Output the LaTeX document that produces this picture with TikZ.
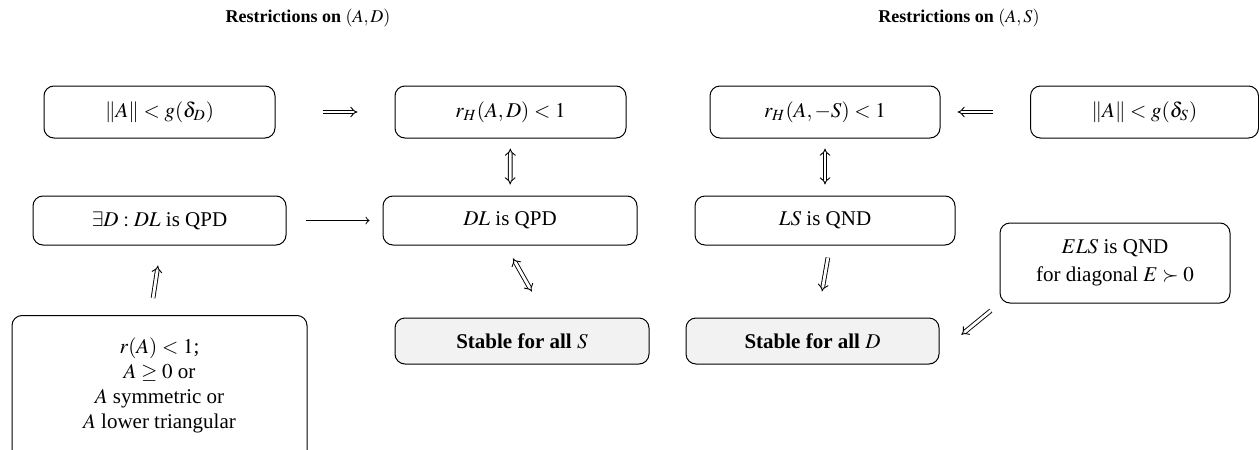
\documentclass[tikz,border=0pt]{standalone}
\usepackage{amsmath,amssymb}
\usepackage{mathptmx}
\usepackage{fontspec}
\setmainfont{Liberation Serif}
\usetikzlibrary{arrows}

\begin{document}
\begin{tikzpicture}[
x = 0.5pt, y = -0.5pt, % one unit = one pixel of the reference
> = to, % arrow head style
line width = 0.5pt,
font = \fontsize{10.5}{12.5}\selectfont
]
\tikzstyle{box}=[
draw = black,
rounded corners = 5pt,
align = center,
inner sep = 2pt,
minimum height = 26pt
]
\tikzstyle{stab}=[box, fill = gray!10, minimum height = 23pt,
font = \fontsize{10.5}{12.5}\selectfont\bfseries]
\tikzstyle{title}=[font = \fontsize{9}{11}\selectfont\bfseries]
\tikzstyle{dbl}=[double, double distance = 1.4pt, line width = 0.45pt]
\useasboundingbox (0,0) rectangle (1259,450);
% titles
\node[title] (tD) at (308,18) {Restrictions on $(A, D)$};
\node[title] (tS) at (959,18) {Restrictions on $(A, S)$};
% top row
\node[box, minimum width = 115.5pt] (gD) at (159.5,112) {$\|A\| < g(\delta_D)$};
\node[box, minimum width = 115.5pt] (rD) at (510.5,112) {$r_H(A, D) < 1$};
\node[box, minimum width = 115pt] (rS) at (825,112) {$r_H(A, -S) < 1$};
\node[box, minimum width = 114pt] (gS) at (1144.5,112) {$\|A\| < g(\delta_S)$};
% middle row
\node[box, minimum width = 126.5pt, minimum height = 24.5pt] (eD) at (159.5,220.5) {$\exists D : DL$ is QPD};
\node[box, minimum width = 127pt, minimum height = 24.5pt] (dl) at (510,220.5) {$DL$ is QPD};
\node[box, minimum width = 130pt, minimum height = 24.5pt] (ls) at (825,220.5) {$LS$ is QND};
\node[box, minimum width = 115pt, minimum height = 40pt] (els) at (1115,263) {$ELS$ is QND\\[1.5pt]for diagonal $E \succ 0$};
% bottom row
\node[stab, minimum width = 127pt] (sS) at (522,341) {Stable for all $S$};
\node[stab, minimum width = 126.5pt] (sD) at (812.5,341) {Stable for all $D$};
\node[box, anchor = north, minimum width = 147.5pt, inner ysep = 11pt, text depth = 60pt] (cond) at (159.5,315)
{$r(A) < 1$;\\$A \geq 0$ or\\$A$ symmetric or\\$A$ lower triangular};
% implications
\draw[dbl, -implies, shorten <= 23.5pt, shorten >= 18.5pt] (gD) -- (rD);
\draw[dbl, -implies, shorten <= 18.5pt, shorten >= 8.5pt] (gS) -- (rS);
\draw[->, shorten <= 9.5pt, shorten >= 6.5pt] (eD) -- (dl);
\draw[dbl, implies-implies, shorten <= 5pt, shorten >= 5.5pt] (rD) -- (dl);
\draw[dbl, implies-implies, shorten <= 5pt, shorten >= 5.5pt] (rS) -- (ls);
\draw[dbl, implies-implies, shorten <= 7.4pt, shorten >= 14.9pt] ([xshift = -2.15pt]dl.south) -- ([xshift = 12.25pt]sS.north);
\draw[dbl, -implies, shorten <= 6.1pt, shorten >= 13.2pt] ([xshift = 2.5pt]ls.south) -- ([xshift = 2.5pt]sD.north);
\draw[dbl, -implies, shorten <= 5.6pt, shorten >= 14.1pt] (els.south west) -- ([yshift = -5.85pt]sD.east);
\draw[dbl, -implies, shorten <= 8.6pt, shorten >= 10.1pt] ([xshift = -4.5pt]cond.north) -- ([xshift = 0.75pt]eD.south);
\end{tikzpicture}
\end{document}
